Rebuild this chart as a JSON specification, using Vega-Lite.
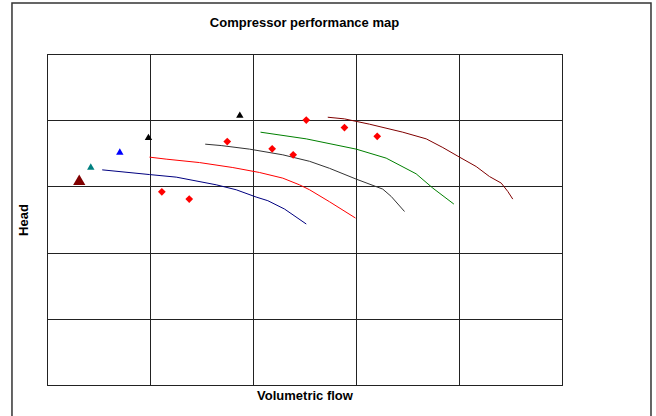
{
  "$schema": "https://vega.github.io/schema/vega-lite/v6.json",
  "autosize": {"type": "none"},
  "width": 515,
  "height": 331,
  "padding": {"left": 47, "top": 54, "right": 94, "bottom": 31},
  "background": "white",
  "title": {
    "text": "Compressor performance map",
    "font": "Liberation Sans",
    "fontSize": 13,
    "fontWeight": "bold",
    "color": "#000000",
    "anchor": "middle",
    "offset": -28
  },
  "config": {
    "view": {"stroke": "#000000", "strokeWidth": 1},
    "axis": {
      "labels": false,
      "ticks": false,
      "domain": false,
      "grid": true,
      "gridColor": "#222222",
      "gridOpacity": 1,
      "gridWidth": 1,
      "titleFont": "Liberation Sans",
      "titleFontSize": 13,
      "titleFontWeight": "bold",
      "titleColor": "#000000"
    }
  },
  "datasets": {
    "curves": [
      {"curve": "Speed 1", "flow": 0.536, "head": 3.250},
      {"curve": "Speed 1", "flow": 0.995, "head": 3.179},
      {"curve": "Speed 1", "flow": 1.255, "head": 3.140},
      {"curve": "Speed 1", "flow": 1.643, "head": 3.024},
      {"curve": "Speed 1", "flow": 1.837, "head": 2.949},
      {"curve": "Speed 1", "flow": 2.031, "head": 2.839},
      {"curve": "Speed 1", "flow": 2.144, "head": 2.784},
      {"curve": "Speed 1", "flow": 2.306, "head": 2.658},
      {"curve": "Speed 1", "flow": 2.517, "head": 2.432},

      {"curve": "Speed 2", "flow": 0.995, "head": 3.442},
      {"curve": "Speed 2", "flow": 1.157, "head": 3.412},
      {"curve": "Speed 2", "flow": 1.481, "head": 3.360},
      {"curve": "Speed 2", "flow": 1.804, "head": 3.285},
      {"curve": "Speed 2", "flow": 2.063, "head": 3.210},
      {"curve": "Speed 2", "flow": 2.289, "head": 3.125},
      {"curve": "Speed 2", "flow": 2.451, "head": 3.024},
      {"curve": "Speed 2", "flow": 2.549, "head": 2.949},
      {"curve": "Speed 2", "flow": 2.743, "head": 2.768},
      {"curve": "Speed 2", "flow": 2.995, "head": 2.522},

      {"curve": "Speed 3", "flow": 1.536, "head": 3.638},
      {"curve": "Speed 3", "flow": 1.691, "head": 3.617},
      {"curve": "Speed 3", "flow": 1.966, "head": 3.563},
      {"curve": "Speed 3", "flow": 2.289, "head": 3.477},
      {"curve": "Speed 3", "flow": 2.549, "head": 3.379},
      {"curve": "Speed 3", "flow": 2.743, "head": 3.273},
      {"curve": "Speed 3", "flow": 3.002, "head": 3.110},
      {"curve": "Speed 3", "flow": 3.260, "head": 2.959},
      {"curve": "Speed 3", "flow": 3.342, "head": 2.848},
      {"curve": "Speed 3", "flow": 3.471, "head": 2.621},

      {"curve": "Speed 4", "flow": 2.073, "head": 3.819},
      {"curve": "Speed 4", "flow": 2.517, "head": 3.718},
      {"curve": "Speed 4", "flow": 3.002, "head": 3.563},
      {"curve": "Speed 4", "flow": 3.293, "head": 3.427},
      {"curve": "Speed 4", "flow": 3.584, "head": 3.190},
      {"curve": "Speed 4", "flow": 3.746, "head": 2.974},
      {"curve": "Speed 4", "flow": 3.950, "head": 2.733},

      {"curve": "Speed 5", "flow": 2.726, "head": 4.045},
      {"curve": "Speed 5", "flow": 2.888, "head": 4.020},
      {"curve": "Speed 5", "flow": 3.131, "head": 3.940},
      {"curve": "Speed 5", "flow": 3.454, "head": 3.819},
      {"curve": "Speed 5", "flow": 3.682, "head": 3.718},
      {"curve": "Speed 5", "flow": 3.843, "head": 3.587},
      {"curve": "Speed 5", "flow": 4.005, "head": 3.442},
      {"curve": "Speed 5", "flow": 4.167, "head": 3.300},
      {"curve": "Speed 5", "flow": 4.296, "head": 3.149},
      {"curve": "Speed 5", "flow": 4.410, "head": 3.050},
      {"curve": "Speed 5", "flow": 4.474, "head": 2.923},
      {"curve": "Speed 5", "flow": 4.522, "head": 2.808}
    ],
    "surge": [
      {"point": "Speed 5", "flow": 0.313, "head": 3.100},
      {"point": "Speed 4", "flow": 0.425, "head": 3.300},
      {"point": "Speed 1", "flow": 0.707, "head": 3.526},
      {"point": "Speed 2", "flow": 0.985, "head": 3.748},
      {"point": "Speed 3", "flow": 1.872, "head": 4.084}
    ],
    "measured": [
      {"flow": 1.115, "head": 2.919},
      {"flow": 1.381, "head": 2.808},
      {"flow": 1.750, "head": 3.677},
      {"flow": 2.186, "head": 3.567},
      {"flow": 2.390, "head": 3.477},
      {"flow": 2.517, "head": 4.002},
      {"flow": 2.888, "head": 3.888},
      {"flow": 3.206, "head": 3.756}
    ]
  },
  "layer": [
    {
      "data": {"values": [{}]},
      "mark": {"type": "rect", "filled": false, "stroke": "#333333", "strokeWidth": 1.5, "clip": false},
      "encoding": {
        "x": {"datum": -0.34, "type": "quantitative", "scale": {"domain": [0, 5], "nice": false, "zero": false}},
        "x2": {"datum": 5.864},
        "y": {"datum": 5.77, "type": "quantitative", "scale": {"domain": [0, 5], "nice": false, "zero": false}},
        "y2": {"datum": -0.53}
      }
    },
    {
      "data": {"name": "curves"},
      "mark": {"type": "line", "strokeWidth": 1, "interpolate": "linear"},
      "encoding": {
        "x": {
          "field": "flow", "type": "quantitative",
          "scale": {"domain": [0, 5], "nice": false, "zero": false},
          "axis": {"title": "Volumetric flow", "values": [0, 1, 2, 3, 4, 5], "titlePadding": 4}
        },
        "y": {
          "field": "head", "type": "quantitative",
          "scale": {"domain": [0, 5], "nice": false, "zero": false},
          "axis": {"title": "Head", "values": [0, 1, 2, 3, 4, 5], "titlePadding": 17}
        },
        "color": {
          "field": "curve", "type": "nominal", "legend": null,
          "scale": {
            "domain": ["Speed 1", "Speed 2", "Speed 3", "Speed 4", "Speed 5"],
            "range": ["#000080", "#FF0000", "#333333", "#008000", "#800000"]
          }
        }
      }
    },
    {
      "data": {"name": "measured"},
      "mark": {"type": "point", "shape": "diamond", "filled": true, "color": "#FF0000", "size": 60, "opacity": 1},
      "encoding": {
        "x": {"field": "flow", "type": "quantitative"},
        "y": {"field": "head", "type": "quantitative"}
      }
    },
    {
      "data": {"name": "surge"},
      "transform": [{"filter": "datum.point !== 'Speed 5'"}],
      "mark": {"type": "point", "shape": "triangle-up", "filled": true, "opacity": 1, "size": 55},
      "encoding": {
        "x": {"field": "flow", "type": "quantitative"},
        "y": {"field": "head", "type": "quantitative"},
        "fill": {
          "field": "point", "type": "nominal", "legend": null,
          "scale": {
            "domain": ["Speed 1", "Speed 2", "Speed 3", "Speed 4"],
            "range": ["#0000FF", "#000000", "#000000", "#008080"]
          }
        }
      }
    },
    {
      "data": {"name": "surge"},
      "transform": [{"filter": "datum.point === 'Speed 5'"}],
      "mark": {"type": "point", "shape": "triangle-up", "filled": true, "opacity": 1, "size": 150, "color": "#800000"},
      "encoding": {
        "x": {"field": "flow", "type": "quantitative"},
        "y": {"field": "head", "type": "quantitative"}
      }
    }
  ],
  "resolve": {"scale": {"color": "independent", "fill": "independent"}}
}
